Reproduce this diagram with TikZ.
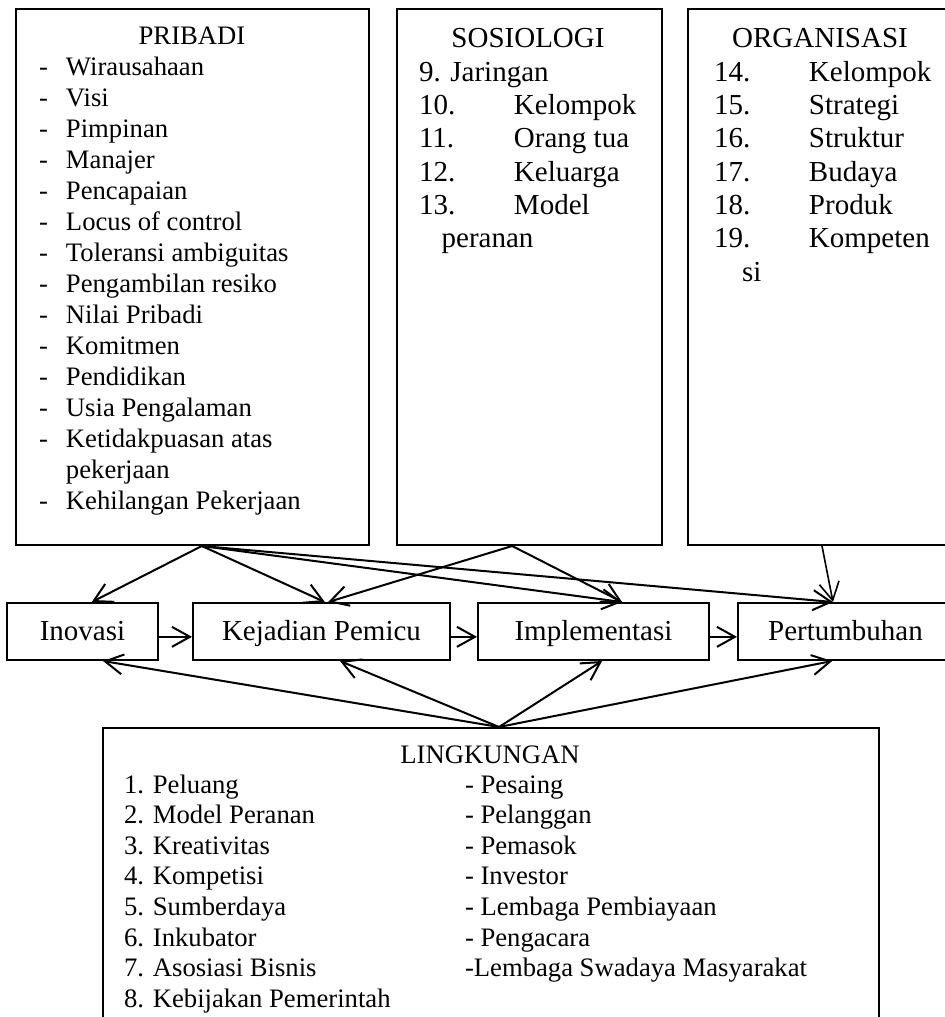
\documentclass[tikz,border=0pt]{standalone}
\usepackage{fontspec}
\setmainfont{Liberation Serif}
\usetikzlibrary{arrows.meta}

\begin{document}
\begin{tikzpicture}[x=0.75pt,y=-0.75pt,line width=1.5pt,
    >={Straight Barb[length=13.5pt,width=15pt]},
    box/.style={draw,rectangle,inner sep=0pt},
    big/.style={font=\fontsize{21.75}{25}\selectfont},
    small/.style={font=\fontsize{20}{23.25}\selectfont},
    list/.style={anchor=base west,inner sep=0pt},
    stage/.style={box,big,minimum height=57*0.75pt,text height=17pt,text depth=4.2pt},
    link/.style={->}]
  \useasboundingbox (0,0) rectangle (945,1017);
  \clip (0,0) rectangle (945,1017);

  % factor boxes
  \node[box,minimum width=353*0.75pt,minimum height=536*0.75pt] (pribadi) at (192.5,277) {};
  \node[box,minimum width=265*0.75pt,minimum height=536*0.75pt] (sosio) at (529.5,277) {};
  \node[box,minimum width=272*0.75pt,minimum height=536*0.75pt] (organ) at (824,277) {};

  \node[small,anchor=base,inner sep=0pt] (pribaditit) at (192,44) {PRIBADI};
  \node[list,small] (pribadilist) at (38,75) {\begin{tabular}[t]{@{}p{20.25pt}@{}l@{}}
    - & Wirausahaan\\
    - & Visi\\
    - & Pimpinan\\
    - & Manajer\\
    - & Pencapaian\\
    - & Locus of control\\
    - & Toleransi ambiguitas\\
    - & Pengambilan resiko\\
    - & Nilai Pribadi\\
    - & Komitmen\\
    - & Pendidikan\\
    - & Usia Pengalaman\\
    - & Ketidakpuasan atas\\
      & pekerjaan\\
    - & Kehilangan Pekerjaan
  \end{tabular}};

  \node[big,anchor=base,inner sep=0pt] (sosiotit) at (528,47) {SOSIOLOGI};
  \node[list,big] (sosiolist) at (418,81) {\begin{tabular}[t]{@{}p{71.25pt}@{}l@{}}
    \multicolumn{2}{@{}l@{}}{9. Jaringan}\\
    10. & Kelompok\\
    11. & Orang tua\\
    12. & Keluarga\\
    13. & Model\\
    \multicolumn{2}{@{}l@{}}{\hspace*{17pt}peranan}
  \end{tabular}};

  \node[big,anchor=base,inner sep=0pt] (organtit) at (820,47) {ORGANISASI};
  \node[list,big] (organlist) at (713,81) {\begin{tabular}[t]{@{}p{71.25pt}@{}l@{}}
    14. & Kelompok\\
    15. & Strategi\\
    16. & Struktur\\
    17. & Budaya\\
    18. & Produk\\
    19. & Kompeten\\
    \multicolumn{2}{@{}l@{}}{\hspace*{21pt}si}
  \end{tabular}};

  % stages
  \node[stage,minimum width=151*0.75pt] (ino) at (82.5,631.5) {Inovasi};
  \node[stage,minimum width=257*0.75pt] (kej) at (321.5,631.5) {Kejadian Pemicu};
  \node[stage,minimum width=231*0.75pt] (impl) at (593.5,631.5) {Implementasi};
  \node[stage,minimum width=215*0.75pt] (tumb) at (845.5,631.5) {Pertumbuhan};

  % environment box, open at the bottom edge
  \node[box,minimum width=776*0.75pt,minimum height=310*0.75pt] (ling) at (491,883) {};
  \node[small,anchor=base,inner sep=0pt] (lingtit) at (490,763) {LINGKUNGAN};
  \node[list,font=\fontsize{20}{22.95}\selectfont] (linglist) at (123,793) {\begin{tabular}[t]{@{}p{255.75pt}@{}l@{}}
    1. Peluang & - Pesaing\\
    2. Model Peranan & - Pelanggan\\
    3. Kreativitas & - Pemasok\\
    4. Kompetisi & - Investor\\
    5. Sumberdaya & - Lembaga Pembiayaan\\
    6. Inkubator & - Pengacara\\
    7. Asosiasi Bisnis & -Lembaga Swadaya Masyarakat\\
    8. Kebijakan Pemerintah &
  \end{tabular}};

  % factors -> stages
  \draw[link] ([xshift=7pt]pribadi.south) -- ([xshift=7pt]ino.north);
  \draw[link] ([xshift=7pt]pribadi.south) -- ([xshift=2.5pt]kej.north);
  \draw[link] ([xshift=7pt]pribadi.south) -- ([xshift=21.4pt]impl.north);
  \draw[link] ([xshift=7pt]pribadi.south) -- ([xshift=-9.4pt]tumb.north);
  \draw[link] ([xshift=-13pt]sosio.south) -- ([xshift=5pt]kej.north);
  \draw[link] ([xshift=-13pt]sosio.south) -- ([xshift=21.4pt]impl.north);
  \draw[link,line width=1.2pt] ([xshift=-1.5pt]organ.south) -- ([xshift=-9.4pt]tumb.north);

  % flow between stages
  \draw[link] ([yshift=-4pt]ino.east) -- ([yshift=-4pt]kej.west);
  \draw[link] ([yshift=-4pt]kej.east) -- ([yshift=-4pt]impl.west);
  \draw[link] ([yshift=-4pt]impl.east) -- ([yshift=-4pt]tumb.west);

  % environment -> stages
  \draw[link] ([xshift=6pt]ling.north) -- ([xshift=15.4pt]ino.south);
  \draw[link] ([xshift=6pt]ling.north) -- ([xshift=13.9pt]kej.south);
  \draw[link] ([xshift=6pt]ling.north) -- ([xshift=6.4pt]impl.south);
  \draw[link] ([xshift=6pt]ling.north) -- ([xshift=-10pt]tumb.south);
\end{tikzpicture}
\end{document}
